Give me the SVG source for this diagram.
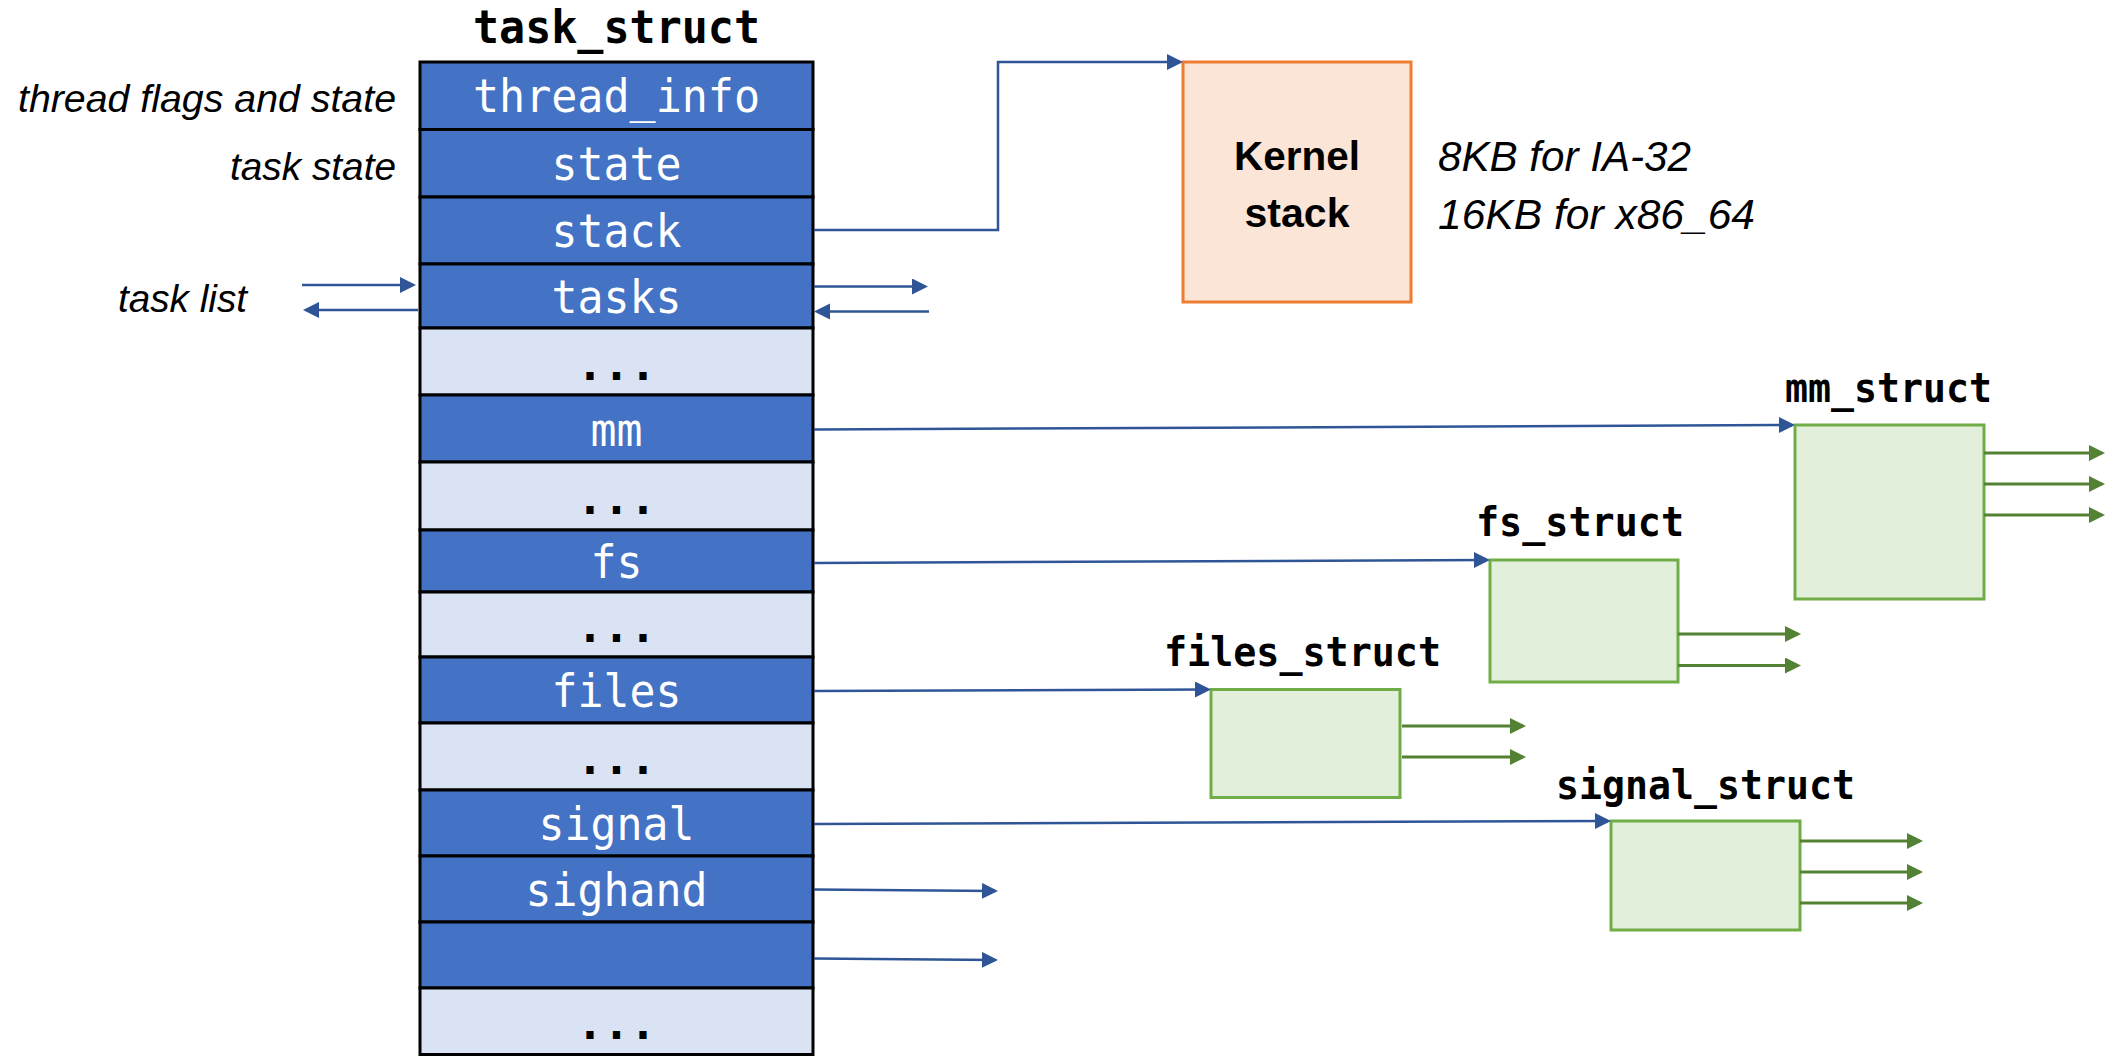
<svg xmlns="http://www.w3.org/2000/svg" width="2108" height="1056" viewBox="0 0 2108 1056">
<style>
  .dk{fill:#4472C4;stroke:#000;stroke-width:3}
  .lt{fill:#DAE3F3;stroke:#000;stroke-width:3}
  .ft{font-family:"DejaVu Sans Mono","Liberation Mono",monospace;font-size:46px;fill:#fff;text-anchor:middle}
  .dots{font-family:"DejaVu Sans Mono","Liberation Mono",monospace;font-size:44px;font-weight:bold;fill:#000;text-anchor:middle}
  .title{font-family:"DejaVu Sans Mono","Liberation Mono",monospace;font-weight:bold;fill:#000}
  .it{font-family:"Liberation Sans",Arial,sans-serif;font-style:italic;fill:#000}
  .gbox{fill:#E2EFDA;stroke:#70AD47;stroke-width:3}
  .bl{fill:none;stroke:#2F5597;stroke-width:2.5}
  .gr{fill:none;stroke:#548235;stroke-width:3}
</style>
<defs>
  <marker id="ab" markerUnits="userSpaceOnUse" markerWidth="17" markerHeight="17" refX="13" refY="8" orient="auto">
    <path d="M0,0 L16,8 L0,16 z" fill="#2F5597"/>
  </marker>
  <marker id="ag" markerUnits="userSpaceOnUse" markerWidth="17" markerHeight="17" refX="13" refY="8" orient="auto">
    <path d="M0,0 L16,8 L0,16 z" fill="#548235"/>
  </marker>
</defs>
<rect width="2108" height="1056" fill="#fff"/>

<g id="task_struct">
  <text class="title" x="616.5" y="43" font-size="46" text-anchor="middle" textLength="287" lengthAdjust="spacingAndGlyphs">task_struct</text>
  <rect class="dk" x="420" y="62" width="393" height="67.5"/>
  <rect class="dk" x="420" y="129.5" width="393" height="67.5"/>
  <rect class="dk" x="420" y="197" width="393" height="67"/>
  <rect class="dk" x="420" y="264" width="393" height="64"/>
  <rect class="lt" x="420" y="328" width="393" height="67"/>
  <rect class="dk" x="420" y="395" width="393" height="67"/>
  <rect class="lt" x="420" y="462" width="393" height="68"/>
  <rect class="dk" x="420" y="530" width="393" height="62"/>
  <rect class="lt" x="420" y="592" width="393" height="65"/>
  <rect class="dk" x="420" y="657" width="393" height="66"/>
  <rect class="lt" x="420" y="723" width="393" height="67"/>
  <rect class="dk" x="420" y="790" width="393" height="66"/>
  <rect class="dk" x="420" y="856" width="393" height="66"/>
  <rect class="dk" x="420" y="922" width="393" height="66"/>
  <rect class="lt" x="420" y="988" width="393" height="66.5"/>
  <text class="ft" x="616.5" y="112" textLength="287" lengthAdjust="spacingAndGlyphs">thread_info</text>
  <text class="ft" x="616.5" y="180" textLength="130" lengthAdjust="spacingAndGlyphs">state</text>
  <text class="ft" x="616.5" y="247" textLength="130" lengthAdjust="spacingAndGlyphs">stack</text>
  <text class="ft" x="616.5" y="313" textLength="130" lengthAdjust="spacingAndGlyphs">tasks</text>
  <text class="dots" x="616.5" y="380">...</text>
  <text class="ft" x="616.5" y="446" textLength="52" lengthAdjust="spacingAndGlyphs">mm</text>
  <text class="dots" x="616.5" y="514">...</text>
  <text class="ft" x="616.5" y="578" textLength="52" lengthAdjust="spacingAndGlyphs">fs</text>
  <text class="dots" x="616.5" y="642">...</text>
  <text class="ft" x="616.5" y="707" textLength="130" lengthAdjust="spacingAndGlyphs">files</text>
  <text class="dots" x="616.5" y="774">...</text>
  <text class="ft" x="616.5" y="840" textLength="156" lengthAdjust="spacingAndGlyphs">signal</text>
  <text class="ft" x="616.5" y="906" textLength="182" lengthAdjust="spacingAndGlyphs">sighand</text>
  <text class="dots" x="616.5" y="1039">...</text>
</g>

<g id="labels">
  <text class="it" x="18" y="112" font-size="38" textLength="378" lengthAdjust="spacingAndGlyphs">thread flags and state</text>
  <text class="it" x="230" y="180" font-size="38" textLength="166" lengthAdjust="spacingAndGlyphs">task state</text>
  <text class="it" x="118" y="312" font-size="38" textLength="129" lengthAdjust="spacingAndGlyphs">task list</text>
  <text class="it" x="1438" y="171" font-size="42" textLength="253" lengthAdjust="spacingAndGlyphs">8KB for IA-32</text>
  <text class="it" x="1438" y="229" font-size="42" textLength="317" lengthAdjust="spacingAndGlyphs">16KB for x86_64</text>
</g>

<g id="kernel_stack">
  <rect x="1183" y="62" width="228" height="240" fill="#FBE5D6" stroke="#ED7D31" stroke-width="3"/>
  <text x="1297" y="170" font-family="'Liberation Sans',Arial,sans-serif" font-weight="bold" font-size="41" text-anchor="middle" textLength="126" lengthAdjust="spacingAndGlyphs">Kernel</text>
  <text x="1297" y="227" font-family="'Liberation Sans',Arial,sans-serif" font-weight="bold" font-size="41" text-anchor="middle" textLength="105" lengthAdjust="spacingAndGlyphs">stack</text>
</g>

<g id="mm_struct">
  <text class="title" x="1785" y="402" font-size="41" textLength="207" lengthAdjust="spacingAndGlyphs">mm_struct</text>
  <rect class="gbox" x="1795" y="425" width="189" height="174"/>
</g>
<g id="fs_struct">
  <text class="title" x="1476" y="536" font-size="41" textLength="208" lengthAdjust="spacingAndGlyphs">fs_struct</text>
  <rect class="gbox" x="1490" y="560" width="188" height="122"/>
</g>
<g id="files_struct">
  <text class="title" x="1164" y="666" font-size="41" textLength="277" lengthAdjust="spacingAndGlyphs">files_struct</text>
  <rect class="gbox" x="1211" y="689.5" width="189" height="108"/>
</g>
<g id="signal_struct">
  <text class="title" x="1556" y="799" font-size="41" textLength="299" lengthAdjust="spacingAndGlyphs">signal_struct</text>
  <rect class="gbox" x="1611" y="821" width="189" height="109"/>
</g>

<g id="connectors">
  <path class="bl" d="M302,285 L413,285" marker-end="url(#ab)"/>
  <path class="bl" d="M418,310 L306,310" marker-end="url(#ab)"/>
  <path class="bl" d="M814,286.5 L925,286.5" marker-end="url(#ab)"/>
  <path class="bl" d="M929,311.5 L817,311.5" marker-end="url(#ab)"/>
  <path class="bl" d="M814,230 L998,230 L998,62 L1180,62" marker-end="url(#ab)"/>
  <path class="bl" d="M814,429.5 L1792,425" marker-end="url(#ab)"/>
  <path class="bl" d="M814,563 L1487,560" marker-end="url(#ab)"/>
  <path class="bl" d="M814,691 L1208,689.5" marker-end="url(#ab)"/>
  <path class="bl" d="M814,824 L1608,821" marker-end="url(#ab)"/>
  <path class="bl" d="M814,889.5 L995,891" marker-end="url(#ab)"/>
  <path class="bl" d="M814,958.5 L995,960" marker-end="url(#ab)"/>
  <path class="gr" d="M1984,453 L2102,453" marker-end="url(#ag)"/>
  <path class="gr" d="M1984,484 L2102,484" marker-end="url(#ag)"/>
  <path class="gr" d="M1984,515 L2102,515" marker-end="url(#ag)"/>
  <path class="gr" d="M1678,634 L1798,634" marker-end="url(#ag)"/>
  <path class="gr" d="M1678,665.5 L1798,665.5" marker-end="url(#ag)"/>
  <path class="gr" d="M1402,726 L1523,726" marker-end="url(#ag)"/>
  <path class="gr" d="M1402,757 L1523,757" marker-end="url(#ag)"/>
  <path class="gr" d="M1800,841 L1920,841" marker-end="url(#ag)"/>
  <path class="gr" d="M1800,872 L1920,872" marker-end="url(#ag)"/>
  <path class="gr" d="M1800,903 L1920,903" marker-end="url(#ag)"/>
</g>
</svg>
